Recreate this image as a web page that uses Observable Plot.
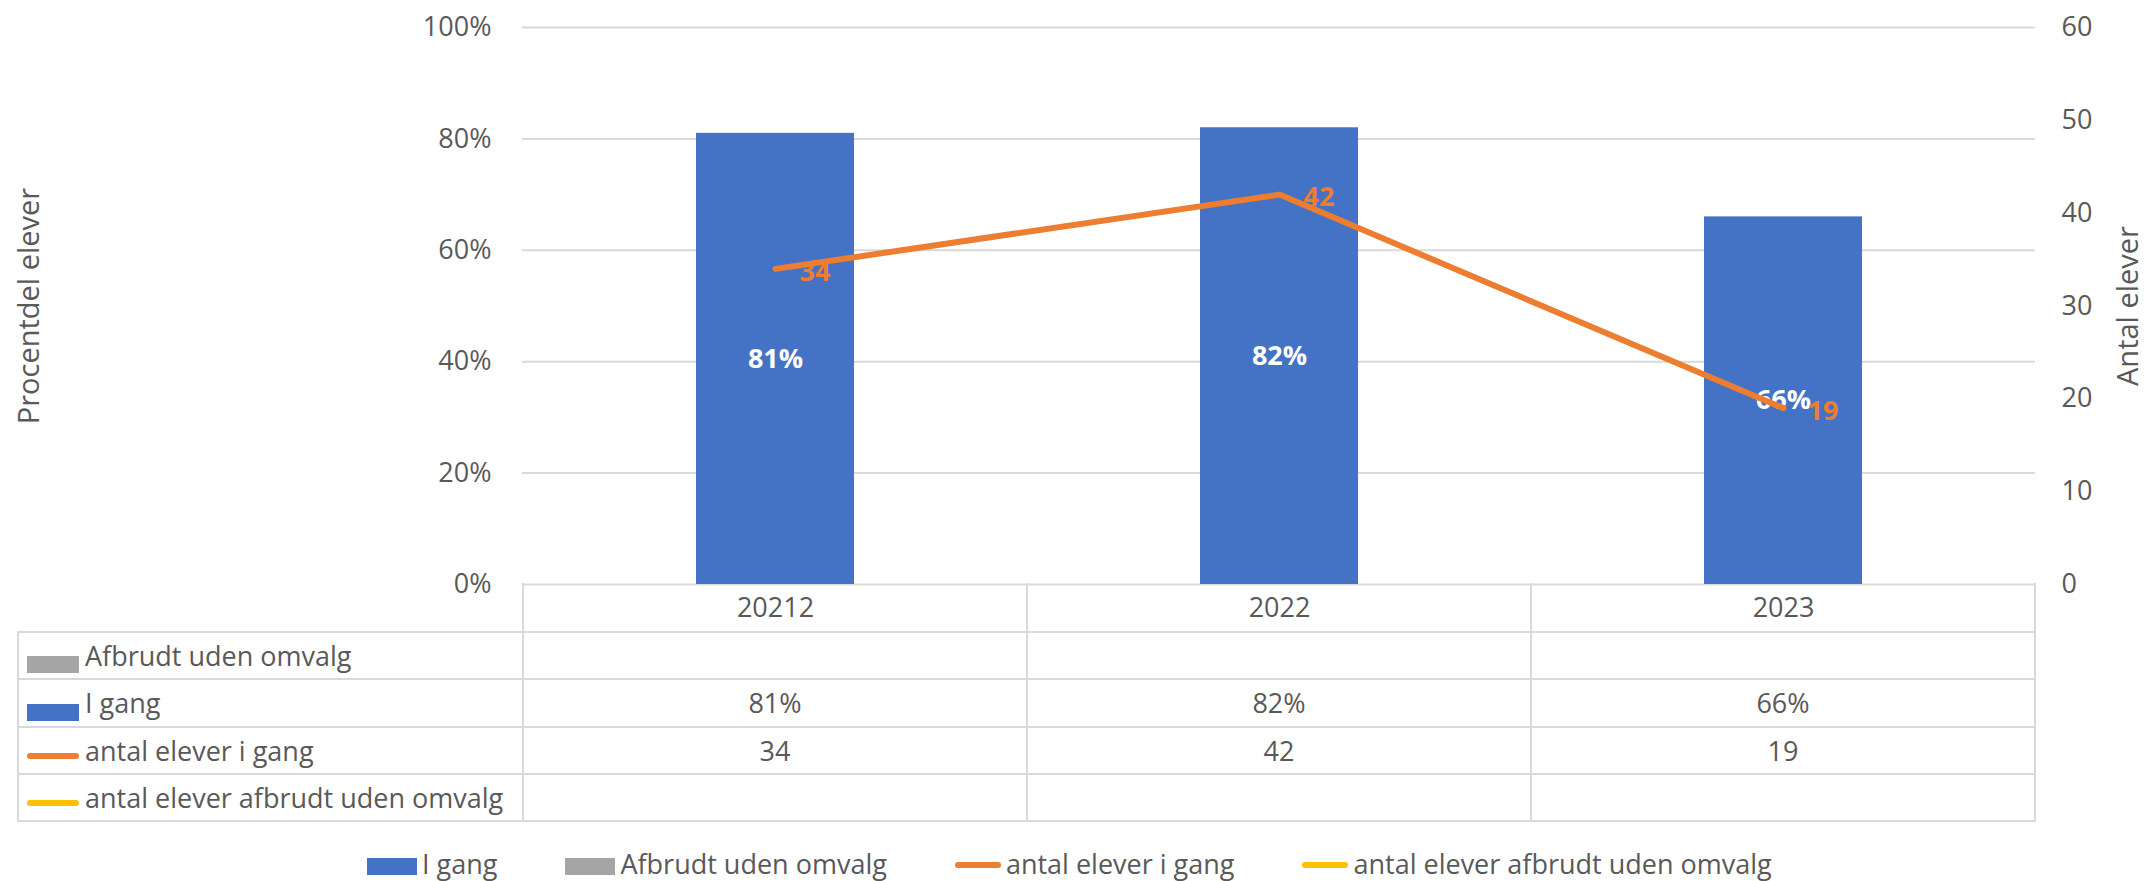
<!DOCTYPE html>
<html>
<head>
<meta charset="utf-8">
<script src="https://cdn.jsdelivr.net/npm/d3@7"></script>
<script src="https://cdn.jsdelivr.net/npm/@observablehq/plot@0.6"></script>
<style>
  html, body { margin: 0; padding: 0; background: #ffffff; }
  #wrap { position: relative; width: 2145px; height: 881px; overflow: hidden; font-family: "Open Sans", sans-serif; color: #595959; }
  #wrap svg { display: block; overflow: visible; }
  table.dt { position: absolute; border-collapse: collapse; table-layout: fixed; font-size: 27px; color: #595959; pointer-events: none; }
  table.dt td { border: 2px solid #d9d9d9; padding: 0; text-align: center; white-space: nowrap; overflow: visible; box-sizing: border-box; }
  table.dt td.lab { text-align: left; padding-left: 8px; }
  .sw { display: inline-block; vertical-align: middle; margin-right: 6px; }
  .legend { position: absolute; display: flex; align-items: center; gap: 68px; font-size: 27px; color: #595959; white-space: nowrap; }
  .legend .item { display: flex; align-items: center; }
</style>
</head>
<body>
<div id="wrap"></div>
<script>
// ---- data ----
const years = ["20212", "2022", "2023"];
const iGang = [0.81, 0.82, 0.66];
const afbrudt = [null, null, null];
const antalIGang = [34, 42, 19];
const antalAfbrudt = [null, null, null];
const pctTicks = [0, 0.2, 0.4, 0.6, 0.8, 1];
const countTicks = [0, 10, 20, 30, 40, 50, 60];
const countMax = 60;
const seriesNames = ["I gang", "Afbrudt uden omvalg", "antal elever i gang", "antal elever afbrudt uden omvalg"];

// ---- styles ----
const BLUE = "#4472C4", GRAY = "#A5A5A5", ORANGE = "#ED7D31", YELLOW = "#FFC000";
const GRID = "#d9d9d9", TEXT = "#595959";
const pctFmt = d3.format(".0%");

const data = years.map((y, i) => ({year: y, pct: iGang[i], n: antalIGang[i], af: afbrudt[i], naf: antalAfbrudt[i]}));

const chart = Plot.plot({
  width: 2145,
  height: 633,
  marginLeft: 522,
  marginRight: 110,
  marginTop: 27,
  marginBottom: 49,
  style: {fontFamily: '"Open Sans", sans-serif', fontSize: "27px", color: TEXT, background: "transparent", overflow: "visible"},
  x: {domain: years, paddingInner: 0.6867, paddingOuter: 0.34335, label: null},
  y: {domain: [0, 1], label: null},
  marks: [
    Plot.ruleY(pctTicks, {stroke: GRID, strokeWidth: 2}),
    Plot.barY(data.filter(d => d.pct != null), {x: "year", y: "pct", fill: BLUE}),
    Plot.barY(data.filter(d => d.af != null), {x: "year", y: "af", fill: GRAY}),
    Plot.text(data.filter(d => d.pct != null), {x: "year", y: d => d.pct / 2, text: d => pctFmt(d.pct), fill: "white", fontWeight: "bold"}),
    Plot.line(data, {x: "year", y: d => d.n / countMax, stroke: ORANGE, strokeWidth: 6, strokeLinecap: "round", strokeLinejoin: "round"}),
    Plot.line(data, {x: "year", y: d => d.naf == null ? NaN : d.naf / countMax, stroke: YELLOW, strokeWidth: 6}),
    Plot.text(data, {x: "year", y: d => d.n / countMax, text: d => String(d.n), fill: ORANGE, fontWeight: "bold", textAnchor: "start", dx: 24, dy: 3}),
    Plot.axisX({tickSize: 0, tickPadding: 13, label: null}),
    Plot.axisY({anchor: "left", ticks: pctTicks, tickFormat: pctFmt, tickSize: 0, tickPadding: 31, label: null}),
    Plot.axisY({anchor: "right", ticks: countTicks.map(v => v / countMax), tickFormat: d => String(Math.round(d * countMax)), tickSize: 0, tickPadding: 26, label: null}),
    Plot.text(["Procentdel elever"], {frameAnchor: "left", textAnchor: "middle", lineAnchor: "middle", rotate: -90, dx: -493, fontSize: 29, fill: TEXT}),
    Plot.text(["Antal elever"], {frameAnchor: "right", textAnchor: "middle", lineAnchor: "middle", rotate: -90, dx: 93, fontSize: 29, fill: TEXT})
  ]
});

const wrap = document.getElementById("wrap");
wrap.appendChild(chart);

// ---- data table aligned to the x scale ----
const xs = chart.scale("x"), ys = chart.scale("y");
const step = xs.step;
const frameLeft = xs.range[0];
const tableLeft = 17;
const firstW = frameLeft - tableLeft;
const top0 = ys.apply(0);

const rows = [
  {name: seriesNames[1], kind: "bar", color: GRAY, values: afbrudt, fmt: pctFmt},
  {name: seriesNames[0], kind: "bar", color: BLUE, values: iGang, fmt: pctFmt},
  {name: seriesNames[2], kind: "line", color: ORANGE, values: antalIGang, fmt: String},
  {name: seriesNames[3], kind: "line", color: YELLOW, values: antalAfbrudt, fmt: String}
];

function swatch(kind, color, w) {
  const s = document.createElement("span");
  s.className = "sw";
  s.style.background = color;
  s.style.width = w + "px";
  if (kind === "bar") { s.style.height = "17px"; s.style.position = "relative"; s.style.top = "6px"; }
  else { s.style.height = "6px"; s.style.borderRadius = "3px"; s.style.position = "relative"; s.style.top = "2px"; }
  return s;
}

const tbl = document.createElement("table");
tbl.className = "dt";
tbl.style.left = tableLeft + "px";
tbl.style.top = (top0 - 1) + "px";
tbl.style.width = (firstW + step * years.length) + "px";
const cg = document.createElement("colgroup");
[firstW, ...years.map(() => step)].forEach(w => { const c = document.createElement("col"); c.style.width = w + "px"; cg.appendChild(c); });
tbl.appendChild(cg);

// header row (category labels come from the Plot x axis underneath)
const hr = document.createElement("tr");
const h0 = document.createElement("td");
h0.style.borderTop = "none"; h0.style.borderLeft = "none"; h0.style.height = "49px";
hr.appendChild(h0);
years.forEach(() => { const td = document.createElement("td"); td.style.borderTop = "none"; td.style.height = "49px"; hr.appendChild(td); });
tbl.appendChild(hr);

rows.forEach(r => {
  const tr = document.createElement("tr");
  const lab = document.createElement("td");
  lab.className = "lab";
  lab.style.height = "47.3px";
  lab.appendChild(swatch(r.kind, r.color, 52));
  lab.appendChild(document.createTextNode(r.name));
  tr.appendChild(lab);
  r.values.forEach(v => {
    const td = document.createElement("td");
    td.style.height = "47.3px";
    td.textContent = v == null ? "" : r.fmt(v);
    tr.appendChild(td);
  });
  tbl.appendChild(tr);
});
wrap.appendChild(tbl);

// ---- legend ----
const leg = document.createElement("div");
leg.className = "legend";
leg.style.left = "367px";
leg.style.top = "845px";
const legItems = [
  {name: seriesNames[0], kind: "bar", color: BLUE},
  {name: seriesNames[1], kind: "bar", color: GRAY},
  {name: seriesNames[2], kind: "line", color: ORANGE},
  {name: seriesNames[3], kind: "line", color: YELLOW}
];
legItems.forEach(it => {
  const d = document.createElement("div");
  d.className = "item";
  const s = swatch(it.kind, it.color, it.kind === "bar" ? 50 : 46);
  s.style.marginRight = "5px";
  s.style.top = it.kind === "bar" ? "3px" : "1px";
  d.appendChild(s);
  const t = document.createElement("span");
  t.textContent = it.name;
  d.appendChild(t);
  leg.appendChild(d);
});
wrap.appendChild(leg);
</script>
</body>
</html>
